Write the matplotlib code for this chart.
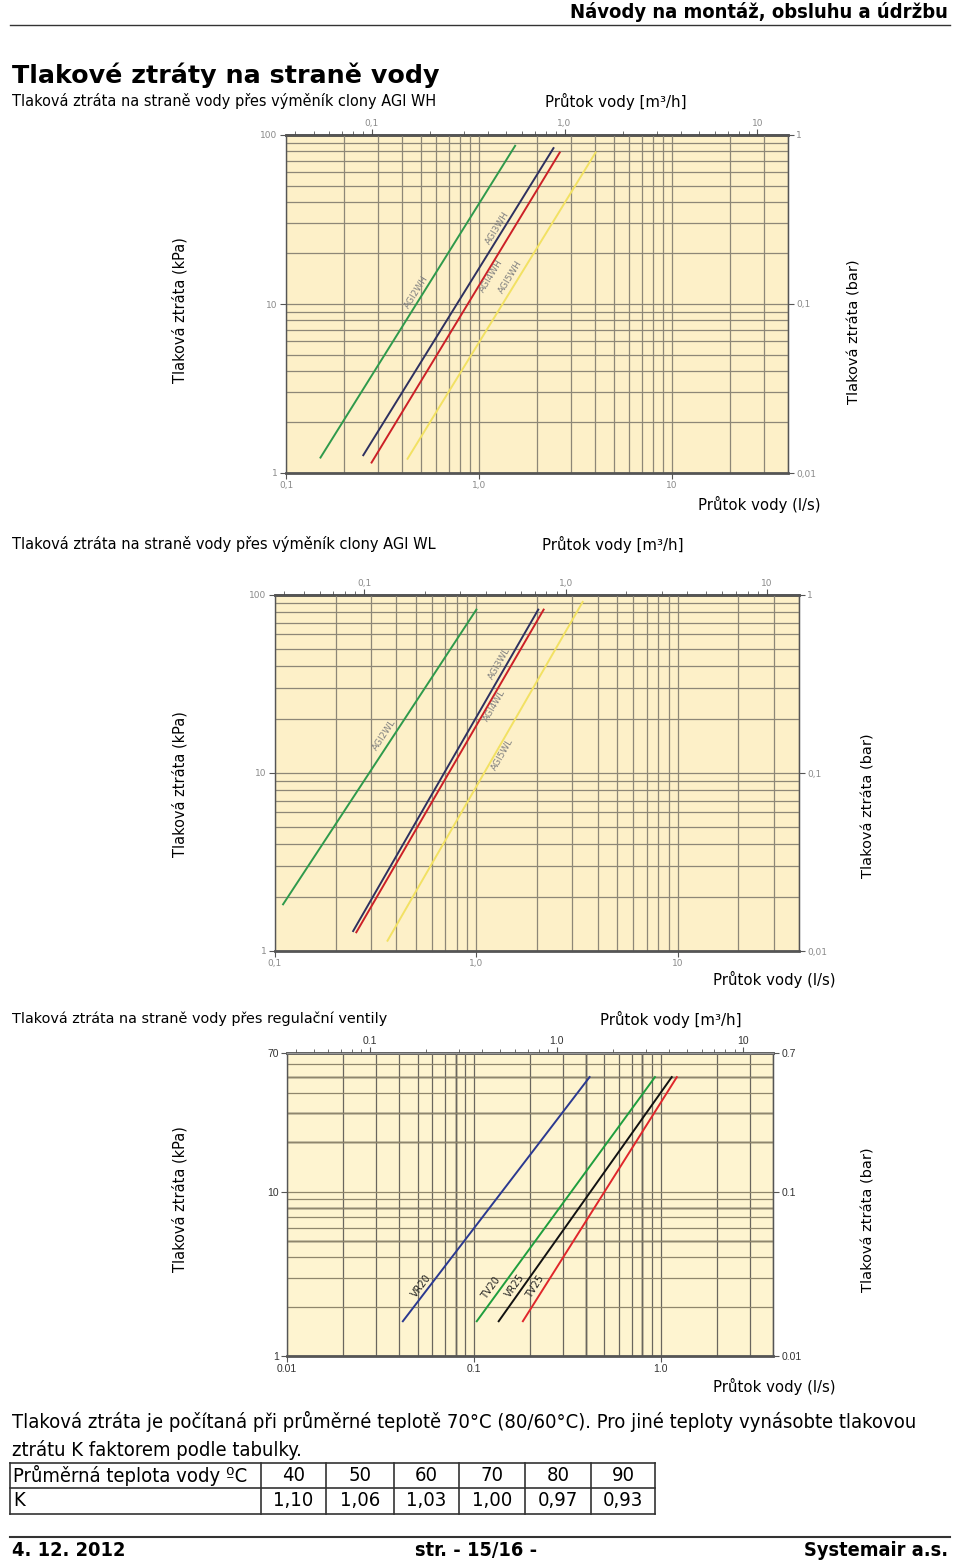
import numpy as np
import matplotlib.pyplot as plt
from matplotlib.lines import Line2D
from matplotlib.ticker import NullFormatter

W, H = 960, 1563

# --- data ---
# chart 1: AGI WH, flow l/s vs pressure loss kPa (line end points)
wh_names = ['AGI2WH', 'AGI3WH', 'AGI4WH', 'AGI5WH']
wh_flow = [[0.15, 1.55], [0.25, 2.45], [0.276, 2.64], [0.424, 4.05]]
wh_loss = [[1.22, 87.3], [1.26, 84.6], [1.14, 79.7], [1.2, 79.7]]

# chart 2: AGI WL
wl_names = ['AGI2WL', 'AGI3WL', 'AGI4WL', 'AGI5WL']
wl_flow = [[0.109, 1.006], [0.243, 2.04], [0.252, 2.17], [0.36, 3.39]]
wl_loss = [[1.81, 83.7], [1.28, 83.7], [1.26, 83.7], [1.13, 92.4]]

# chart 3: regulacni ventily
rv_names = ['VR20', 'TV20', 'VR25', 'TV25']
rv_flow = [[0.0414, 0.42], [0.103, 0.94], [0.135, 1.156], [0.182, 1.23]]
rv_loss = [[1.61, 50.5], [1.61, 50.5], [1.61, 50.5], [1.61, 50.5]]

# K factor table
temps = ['40', '50', '60', '70', '80', '90']
k_factor = ['1,10', '1,06', '1,03', '1,00', '0,97', '0,93']

fig = plt.figure(figsize=(9.6, 15.63), dpi=100)
renderer = fig.canvas.get_renderer()


def fx(x):
    return x / W


def fy(y):
    return 1 - y / H


def page_text(x, y, s, width=None, **kw):
    # width: wanted text width in pixels, font size is scaled to it
    kw.setdefault('va', 'center')
    t = fig.text(fx(x), fy(y), s, **kw)
    if width:
        bb = t.get_window_extent(renderer)
        size = max(bb.width, bb.height) if kw.get('rotation') else bb.width
        t.set_fontsize(t.get_fontsize() * width / size)
    return t


def page_line(x0, x1, y0, y1, lw=1.0, color='#333333'):
    fig.add_artist(Line2D([fx(x0), fx(x1)], [fy(y0), fy(y1)],
                          transform=fig.transFigure, lw=lw, color=color))


def chart(box, xlim, ylim, bg, gridc, xt, xtl, topk, topt, toptl, rt, rtl,
          yt, ytl, tickc, tsize, family='DejaVu Sans', hgridc=None):
    l, t, r, b = box
    ax = fig.add_axes([fx(l), fy(b), (r - l) / W, (b - t) / H])
    ax.set_xscale('log')
    ax.set_yscale('log')
    ax.set_xlim(xlim)
    ax.set_ylim(ylim)
    ax.set_facecolor(bg)
    ax.xaxis.grid(True, which='both', color=gridc, lw=0.9)
    ax.yaxis.grid(True, which='both', color=hgridc or gridc, lw=0.9)
    ax.set_axisbelow(True)
    ax.set_xticks(xt, labels=xtl)
    ax.set_yticks(yt, labels=ytl)
    ax.xaxis.set_minor_formatter(NullFormatter())
    ax.yaxis.set_minor_formatter(NullFormatter())
    ax.tick_params(which='minor', length=0)
    ax.tick_params(which='major', length=4, color='#555555', labelcolor=tickc,
                   labelsize=tsize, pad=2)
    for lab in ax.get_xticklabels() + ax.get_yticklabels():
        lab.set_family(family)
    for s in ax.spines.values():
        s.set_color('#555555')
        s.set_lw(1.0)
    ax.spines['bottom'].set_lw(2.0)

    top = ax.secondary_xaxis('top', functions=(lambda x: x * topk, lambda x: x / topk))
    top.set_xticks(topt, labels=toptl)
    top.xaxis.set_minor_formatter(NullFormatter())
    top.tick_params(which='major', length=4, color='#555555', labelcolor=tickc,
                    labelsize=tsize, pad=1)
    top.tick_params(which='minor', length=3, color='#555555')
    top.spines['top'].set_color('#444444')
    top.spines['top'].set_lw(2.0)
    for lab in top.get_xticklabels():
        lab.set_family(family)

    rgt = ax.secondary_yaxis('right', functions=(lambda y: y / 100, lambda y: y * 100))
    rgt.set_yticks(rt, labels=rtl)
    rgt.yaxis.set_minor_formatter(NullFormatter())
    rgt.tick_params(which='minor', length=0)
    rgt.tick_params(which='major', length=4, color='#555555', labelcolor=tickc,
                    labelsize=tsize, pad=2)
    rgt.spines['right'].set_color('#555555')
    for lab in rgt.get_yticklabels():
        lab.set_family(family)
    return ax


def draw_lines(ax, flows, losses, names, colors, ts, offs, tcolor, tsize):
    for f, p, name, c, t, d in zip(flows, losses, names, colors, ts, offs):
        ax.plot(f, p, color=c, lw=1.4, solid_capstyle='butt')
        lx = np.log10(f)
        ly = np.log10(p)
        xm = 10 ** (lx[0] + t * (lx[1] - lx[0]))
        ym = 10 ** (ly[0] + t * (ly[1] - ly[0]))
        pts = ax.transData.transform(np.column_stack([f, p]))
        ang = np.degrees(np.arctan2(pts[1, 1] - pts[0, 1], pts[1, 0] - pts[0, 0]))
        th = np.radians(ang)
        ax.annotate(name, (xm, ym), xytext=(-d * np.sin(th), d * np.cos(th)),
                    textcoords='offset pixels', rotation=ang, ha='center',
                    va='center', rotation_mode='anchor', fontsize=tsize,
                    color=tcolor)


NARROW = dict(family='DejaVu Sans', fontstretch='condensed')

# --- page header ---
page_text(948, 12, 'Návody na montáž, obsluhu a údržbu', width=383, ha='right',
          fontsize=14, fontweight='bold', **NARROW)
page_line(10, 950, 25, 25, lw=1.0)
page_text(12, 75, 'Tlakové ztráty na straně vody', width=429, fontsize=18, fontweight='bold')

# --- chart 1 ---
page_text(12, 101, 'Tlaková ztráta na straně vody přes výměník clony AGI WH', width=424, fontsize=10)
page_text(545, 101, 'Průtok vody [m³/h]', width=142, fontsize=10)
ax1 = chart((286, 135, 788, 473), (0.1, 40), (1, 100), '#fdf0c8', '#8d8777',
            [0.1, 1, 10], ['0,1', '1,0', '10'], 0.36, [0.1, 1, 10], ['0,1', '1,0', '10'],
            [1, 0.1, 0.01], ['1', '0,1', '0,01'], [1, 10, 100], ['1', '10', '100'],
            '#8a8a8a', 6.5)
draw_lines(ax1, wh_flow, wh_loss, wh_names, ['#2f9a4c', '#2e3160', '#cc2027', '#f2e163'],
           [0.52, 0.73, 0.61, 0.58], [6, 6, -6, 7], '#808080', 6.5)
page_text(180, 310, 'Tlaková ztráta (kPa)', width=146, rotation=90, ha='center', fontsize=10.5)
page_text(855, 332, 'Tlaková ztráta (bar)', width=144, rotation=90, ha='center', fontsize=10.5)
page_text(698, 504, 'Průtok vody (l/s)', width=122, fontsize=10)

# --- chart 2 ---
page_text(12, 544, 'Tlaková ztráta na straně vody přes výměník clony AGI WL', width=422, fontsize=10)
page_text(542, 544, 'Průtok vody [m³/h]', width=142, fontsize=10)
ax2 = chart((275, 595, 799, 951), (0.1, 40), (1, 100), '#fdf0c8', '#8d8777',
            [0.1, 1, 10], ['0,1', '1,0', '10'], 0.36, [0.1, 1, 10], ['0,1', '1,0', '10'],
            [1, 0.1, 0.01], ['1', '0,1', '0,01'], [1, 10, 100], ['1', '10', '100'],
            '#8a8a8a', 6.5)
draw_lines(ax2, wl_flow, wl_loss, wl_names, ['#2f9a4c', '#2e3160', '#cc2027', '#f2e163'],
           [0.56, 0.82, 0.71, 0.56], [8, 7, -6, -7], '#808080', 6.5)
page_text(180, 784, 'Tlaková ztráta (kPa)', width=146, rotation=90, ha='center', fontsize=10.5)
page_text(868, 806, 'Tlaková ztráta (bar)', width=144, rotation=90, ha='center', fontsize=10.5)
page_text(713, 979, 'Průtok vody (l/s)', width=122, fontsize=10)

# --- chart 3 ---
page_text(12, 1019, 'Tlaková ztráta na straně vody přes regulační ventily', width=376, fontsize=10)
page_text(600, 1019, 'Průtok vody [m³/h]', width=142, fontsize=10)
ax3 = chart((287, 1053, 773, 1356), (0.01, 4), (1, 70), '#fef4d0', '#6a665e',
            [0.01, 0.1, 1], ['0.01', '0.1', '1.0'], 3.6, [0.1, 1, 10], ['0.1', '1.0', '10'],
            [0.7, 0.1, 0.01], ['0.7', '0.1', '0.01'], [1, 10, 70], ['1', '10', '70'],
            '#333333', 7.5, family='Liberation Sans', hgridc='#8f866c')
for v in [0.08, 0.4, 0.8]:
    ax3.axvline(v, color='#111111', lw=1.0, zorder=0.5)
for v in [50, 30, 20, 8, 5]:
    ax3.axhline(v, color='#111111', lw=1.0, zorder=0.5)
ax3.spines['top'].set_color('#999999')
draw_lines(ax3, rv_flow, rv_loss, rv_names, ['#2b3990', '#1f9e3e', '#111111', '#e0262b'],
           [0.13, 0.12, 0.13, 0.125], [7, 8, 7, 8], '#222222', 7)
page_text(180, 1199, 'Tlaková ztráta (kPa)', width=146, rotation=90, ha='center', fontsize=10.5)
page_text(868, 1220, 'Tlaková ztráta (bar)', width=144, rotation=90, ha='center', fontsize=10.5)
page_text(713, 1386, 'Průtok vody (l/s)', width=122, fontsize=10)

# --- note and table ---
note = page_text(12, 1421, 'Tlaková ztráta je počítaná při průměrné teplotě 70°C (80/60°C). '
                 'Pro jiné teploty vynásobte tlakovou', width=909, fontsize=14, **NARROW)
page_text(12, 1450, 'ztrátu K faktorem podle tabulky.', fontsize=note.get_fontsize(), **NARROW)

col_x = [10, 261, 326, 394, 459, 525, 591, 655]
row_y = [1463, 1488, 1514]
for y in row_y:
    page_line(col_x[0], col_x[-1], y, y, lw=1.2)
for x in col_x:
    page_line(x, x, row_y[0], row_y[-1], lw=1.2)
head = page_text(13, (row_y[0] + row_y[1]) / 2, 'Průměrná teplota vody ºC', width=236,
                 fontsize=14, **NARROW)
tsz = head.get_fontsize()
page_text(13, (row_y[1] + row_y[2]) / 2, 'K', fontsize=tsz, **NARROW)
for i, (tv, kv) in enumerate(zip(temps, k_factor)):
    cx = (col_x[i + 1] + col_x[i + 2]) / 2
    page_text(cx, (row_y[0] + row_y[1]) / 2, tv, ha='center', fontsize=tsz, **NARROW)
    page_text(cx, (row_y[1] + row_y[2]) / 2, kv, ha='center', fontsize=tsz, **NARROW)

# --- footer ---
page_line(10, 950, 1537, 1537, lw=1.5)
foot = page_text(948, 1551, 'Systemair a.s.', width=145, ha='right', fontsize=14,
                 fontweight='bold', **NARROW)
fsz = foot.get_fontsize()
page_text(12, 1551, '4. 12. 2012', fontsize=fsz, fontweight='bold', **NARROW)
page_text(476, 1551, 'str. - 15/16 -', ha='center', fontsize=fsz, fontweight='bold', **NARROW)

fig.savefig('out.png', dpi=100, facecolor='white')
